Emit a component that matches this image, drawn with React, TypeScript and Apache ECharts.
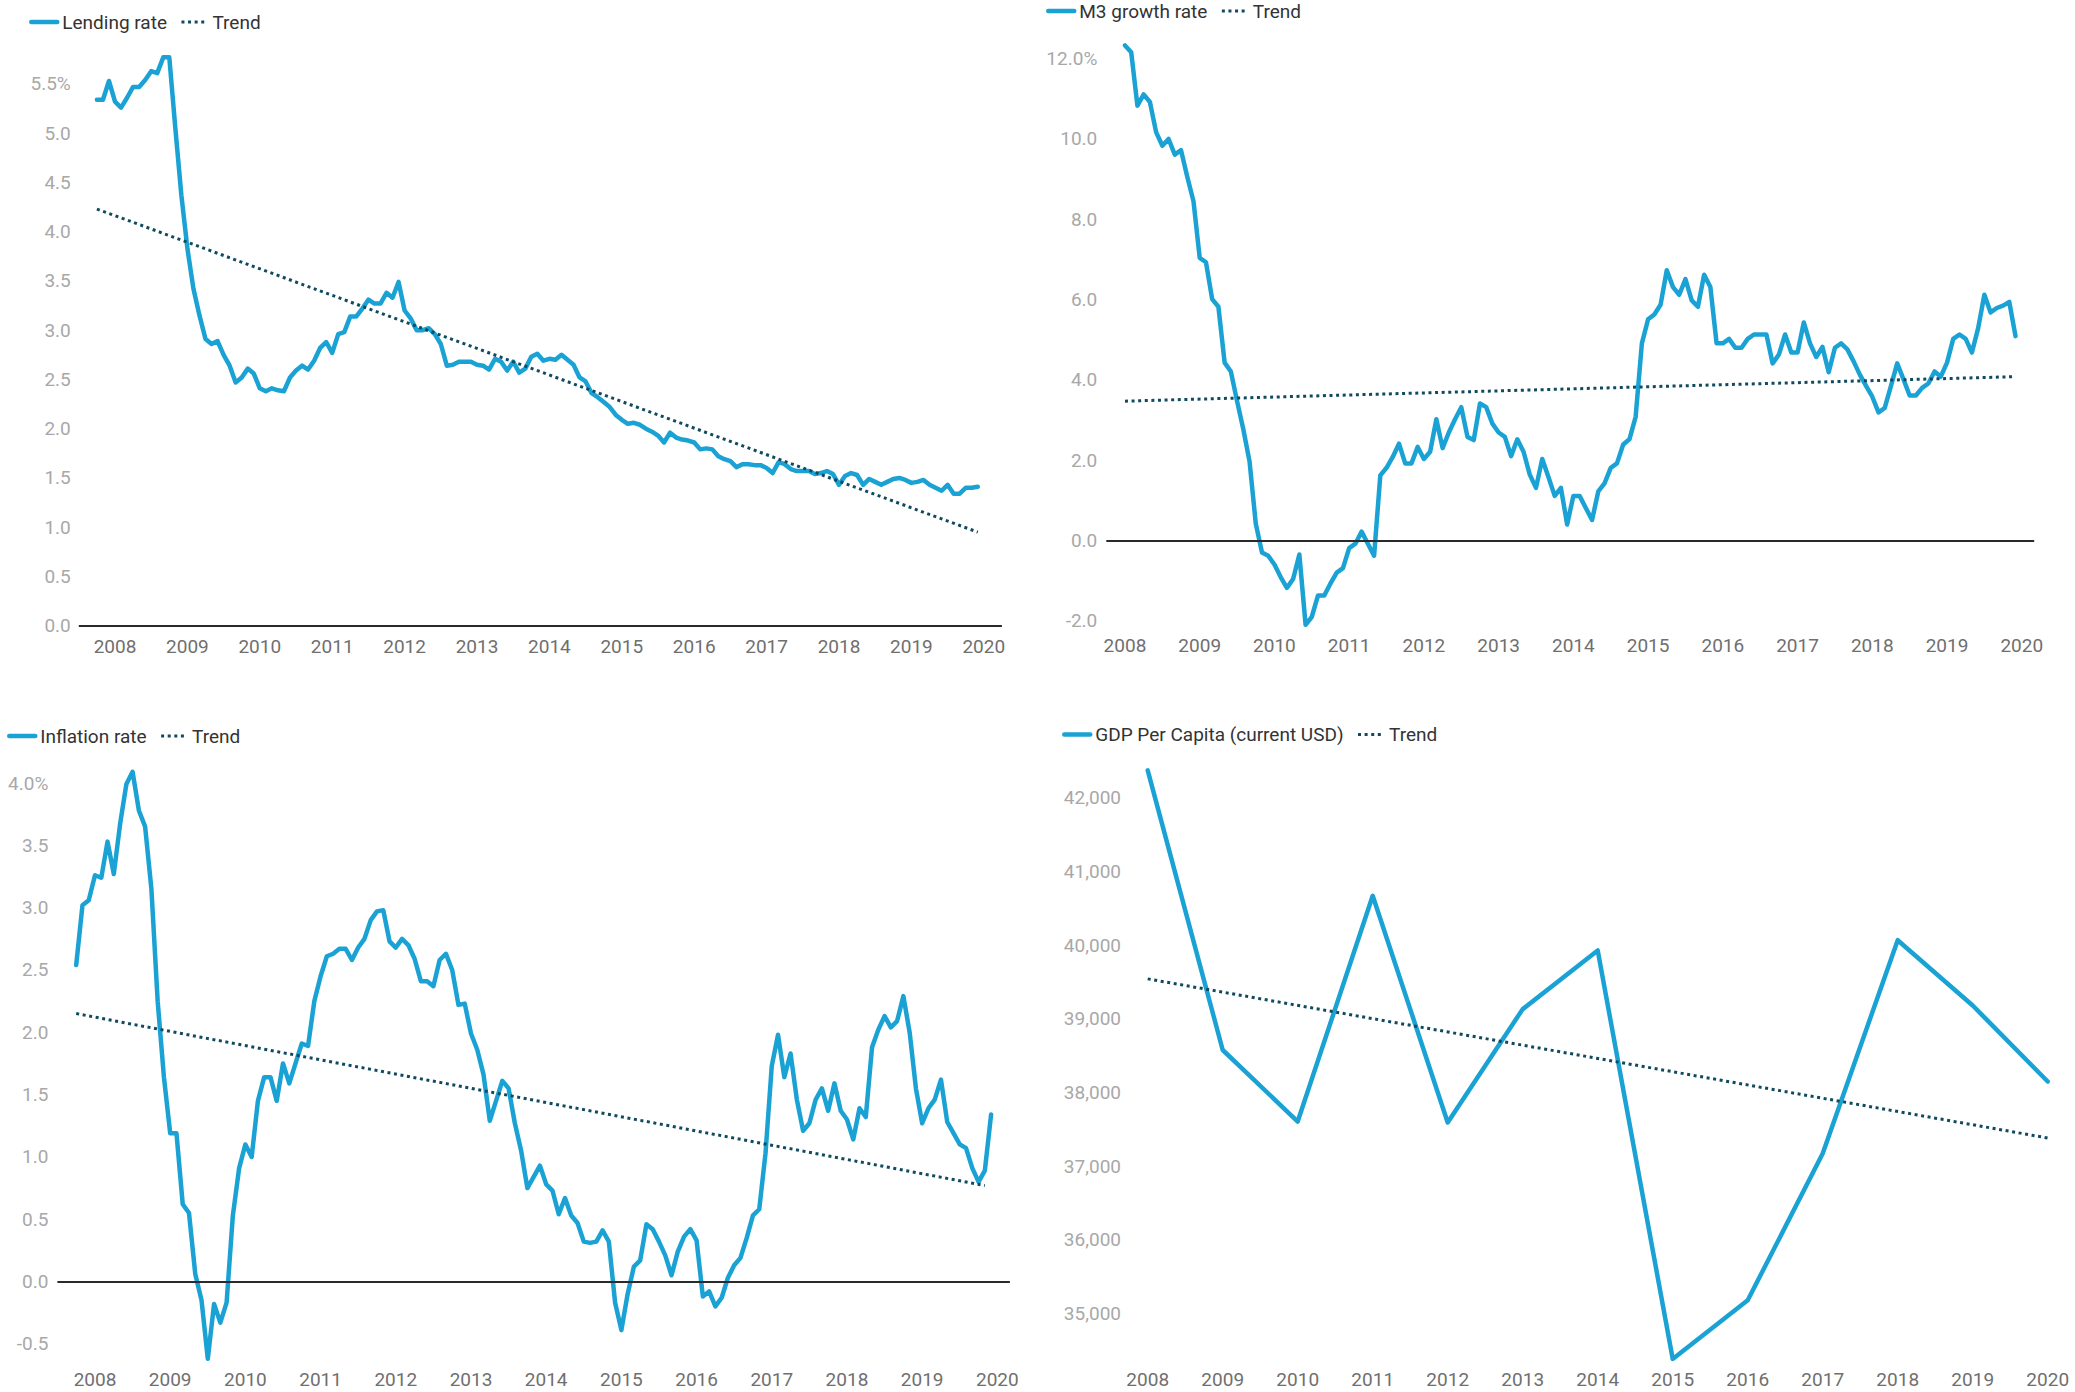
import { useEffect, useRef } from 'react'
import * as echarts from 'echarts'

const FONT = 'Roboto, "Noto Sans", sans-serif'
const LINE_COLOR = '#1ba2d4'
const TREND_COLOR = '#0f4a5f'

// Lending rate, monthly from 2007-10 to 2019-12 (%)
const lendingStart = '2007-10'
const lendingRate = [
  5.34, 5.34, 5.53, 5.32, 5.26, 5.36, 5.47, 5.47, 5.54, 5.63,
  5.61, 5.77, 5.77, 5.05, 4.37, 3.83, 3.42, 3.15, 2.91, 2.86,
  2.89, 2.75, 2.64, 2.47, 2.52, 2.61, 2.56, 2.41, 2.38, 2.41,
  2.39, 2.38, 2.52, 2.59, 2.64, 2.6, 2.69, 2.82, 2.88, 2.77,
  2.96, 2.98, 3.14, 3.14, 3.22, 3.31, 3.27, 3.27, 3.38, 3.33,
  3.49, 3.2, 3.12, 3.0, 3.0, 3.02, 2.96, 2.86, 2.64, 2.65,
  2.68, 2.68, 2.68, 2.65, 2.64, 2.6, 2.71, 2.68, 2.59, 2.68,
  2.57, 2.61, 2.73, 2.76, 2.69, 2.71, 2.7, 2.75, 2.7, 2.65,
  2.52, 2.48, 2.36, 2.32, 2.27, 2.22, 2.14, 2.09, 2.05, 2.06,
  2.04, 2.0, 1.97, 1.93, 1.86, 1.96, 1.91, 1.89, 1.88, 1.86,
  1.79, 1.8, 1.79, 1.72, 1.69, 1.67, 1.61, 1.64, 1.64, 1.63,
  1.63, 1.6, 1.55, 1.66, 1.64, 1.59, 1.57, 1.57, 1.57, 1.54,
  1.55, 1.57, 1.54, 1.43, 1.52, 1.55, 1.53, 1.43, 1.49, 1.46,
  1.43, 1.46, 1.49, 1.5, 1.48, 1.45, 1.46, 1.48, 1.43, 1.4,
  1.37, 1.43, 1.34, 1.34, 1.4, 1.4, 1.41,
]
const lendingTrend = [4.23, 0.95]

// M3 growth rate, monthly from 2008-01 to 2019-12 (%)
const m3Start = '2008-01'
const m3Growth = [
  12.33, 12.16, 10.83, 11.11, 10.92, 10.17, 9.83, 10.0, 9.61, 9.72,
  9.06, 8.45, 7.04, 6.93, 6.01, 5.82, 4.43, 4.21, 3.47, 2.77,
  1.97, 0.42, -0.3, -0.38, -0.6, -0.91, -1.18, -0.96, -0.35,
  -2.1, -1.9, -1.37, -1.37, -1.07, -0.8, -0.69, -0.19, -0.08, 0.22,
  -0.08, -0.38, 1.62, 1.81, 2.08, 2.41, 1.92, 1.92, 2.33, 2.03,
  2.21, 3.02, 2.3, 2.69, 3.02, 3.32, 2.58, 2.5, 3.41, 3.32,
  2.91, 2.69, 2.58, 2.1, 2.52, 2.21, 1.64, 1.31, 2.03, 1.58,
  1.11, 1.31, 0.4, 1.11, 1.11, 0.81, 0.51, 1.22, 1.42, 1.81,
  1.92, 2.39, 2.52, 3.08, 4.91, 5.51, 5.63, 5.87, 6.73, 6.31,
  6.12, 6.51, 5.98, 5.82, 6.62, 6.31, 4.91, 4.91, 5.02, 4.8,
  4.8, 5.02, 5.13, 5.13, 5.13, 4.41, 4.63, 5.13, 4.68,
  4.68, 5.43, 4.91, 4.57, 4.82, 4.19, 4.8, 4.91, 4.76, 4.46,
  4.13, 3.85, 3.58, 3.19, 3.3, 3.85, 4.41, 4.02, 3.61, 3.61,
  3.8, 3.91, 4.21, 4.08, 4.43, 5.02, 5.13, 5.02, 4.68, 5.29,
  6.12, 5.68, 5.79, 5.85, 5.94, 5.09,
]
const m3Trend = [3.47, 4.08]

// Inflation rate, monthly from 2007-10 to 2019-12 (%)
const inflationStart = '2007-10'
const inflationRate = [
  2.54, 3.02, 3.06, 3.26, 3.24, 3.53, 3.27, 3.67, 3.99, 4.09,
  3.78, 3.65, 3.15, 2.25, 1.64, 1.19, 1.19, 0.62, 0.55, 0.06,
  -0.15, -0.62, -0.18, -0.33, -0.17, 0.53, 0.91, 1.1, 1.0, 1.45,
  1.64, 1.64, 1.45, 1.75, 1.59, 1.75, 1.91, 1.89, 2.25, 2.45,
  2.61, 2.63, 2.67, 2.67, 2.58, 2.68, 2.75, 2.9, 2.97, 2.98,
  2.73, 2.68, 2.75, 2.7, 2.59, 2.41, 2.41, 2.37, 2.58, 2.63,
  2.5, 2.22, 2.23, 1.99, 1.86, 1.66, 1.29, 1.45, 1.61, 1.55,
  1.27, 1.05, 0.75, 0.84, 0.93, 0.78, 0.73, 0.54, 0.67, 0.53,
  0.47, 0.32, 0.31, 0.32, 0.41, 0.32, -0.17, -0.39, -0.1, 0.12,
  0.17, 0.46, 0.42, 0.32, 0.21, 0.05, 0.24, 0.36, 0.42, 0.33,
  -0.12, -0.08, -0.2, -0.13, 0.03, 0.13, 0.19, 0.35, 0.53, 0.58,
  1.03, 1.73, 1.98, 1.64, 1.83, 1.46, 1.21, 1.27, 1.46, 1.55,
  1.37, 1.59, 1.37, 1.3, 1.14, 1.39, 1.32, 1.88, 2.02, 2.13,
  2.04, 2.09, 2.29, 2.0, 1.55, 1.27, 1.39, 1.46, 1.62, 1.28,
  1.19, 1.1, 1.07, 0.91, 0.8, 0.89, 1.34,
]
const inflationTrend = [2.15, 0.77]

// GDP per capita, yearly (current USD)
const gdpYears = ['2008', '2009', '2010', '2011', '2012', '2013', '2014', '2015', '2016', '2017', '2018', '2019', '2020']
const gdpPerCapita = [42374, 38578, 37607, 40672, 37594, 39133, 39930, 34384, 35180, 37172, 40069, 39182, 38150]
const gdpTrend = [39544, 37383]

function monthRange(from: string, to: string) {
  const out: string[] = []
  let [y, m] = from.split('-').map(Number)
  const [y1, m1] = to.split('-').map(Number)
  while (y < y1 || (y === y1 && m <= m1)) {
    out.push(`${y}-${String(m).padStart(2, '0')}`)
    m++
    if (m > 12) { m = 1; y++ }
  }
  return out
}

function place(cats: string[], start: string, values: number[]) {
  const i0 = cats.indexOf(start)
  return cats.map((_, i) => (i >= i0 && i < i0 + values.length ? values[i - i0] : null))
}

function trendData(cats: string[], from: string, to: string, ends: number[]) {
  return cats.map(c => (c === from ? ends[0] : c === to ? ends[1] : null))
}

const withCommas = (v: number) => String(v).replace(/\B(?=(\d{3})+(?!\d))/g, ',')

interface PanelSpec {
  name: string
  cats: string[]
  monthly: boolean
  values: (number | null)[]
  trend: (number | null)[]
  legendLeft: number
  legendTop: number
  grid: { left: number; right: number; top: number; bottom: number }
  yMin: number
  yMax: number
  splitNumber: number
  step: number
  topLabel: number | null
  gdp?: boolean
  zeroLine: boolean
  yMargin: number
  xMargin: number
}

function buildOption(p: PanelSpec): echarts.EChartsOption {
  const yFormatter = (v: number) => {
    const k = Math.round(v / p.step)
    if (Math.abs(v - k * p.step) > p.step * 1e-6) return ''
    const val = k * p.step
    if (p.gdp) return withCommas(Math.round(val))
    let s = val.toFixed(1)
    if (p.topLabel !== null && Math.abs(val - p.topLabel) < 1e-6) s += '%'
    return s
  }

  return {
    animation: false,
    backgroundColor: '#ffffff',
    legend: {
      left: p.legendLeft,
      top: p.legendTop,
      padding: 0,
      itemWidth: 26,
      itemHeight: 14,
      itemGap: 13,
      selectedMode: false,
      // hide the marker circle that line series put in their legend icon
      itemStyle: { opacity: 0 },
      lineStyle: { width: 'inherit' },
      textStyle: { fontFamily: FONT, fontSize: 19, color: '#333333', lineHeight: 20 },
      data: [p.name, 'Trend'],
    },
    grid: { ...p.grid, containLabel: false },
    xAxis: {
      type: 'category',
      data: p.cats,
      boundaryGap: false,
      axisLine: { show: false },
      axisTick: { show: false },
      splitLine: { show: false },
      axisLabel: {
        interval: p.monthly ? (_i: number, v: string) => v.endsWith('-01') : 0,
        formatter: (v: string) => v.slice(0, 4),
        color: '#6f6f6f',
        fontSize: 19,
        fontFamily: FONT,
        margin: p.xMargin,
      },
    },
    yAxis: {
      type: 'value',
      min: p.yMin,
      max: p.yMax,
      splitNumber: p.splitNumber,
      axisLine: { show: false },
      axisTick: { show: false },
      splitLine: { show: false },
      axisLabel: {
        formatter: yFormatter,
        color: '#a8a8a8',
        fontSize: 19,
        fontFamily: FONT,
        margin: p.yMargin,
        showMinLabel: true,
        showMaxLabel: true,
      },
    },
    series: [
      {
        name: p.name,
        type: 'line',
        data: p.values,
        symbol: 'none',
        clip: false,
        lineStyle: { color: LINE_COLOR, width: 4.5, cap: 'round', join: 'round' },
        itemStyle: { color: LINE_COLOR },
        emphasis: { disabled: true },
        markLine: p.zeroLine
          ? {
              silent: true,
              symbol: 'none',
              label: { show: false },
              lineStyle: { color: '#2a2a2a', width: 2, type: 'solid' },
              data: [{ yAxis: 0 }],
            }
          : undefined,
        z: 3,
      },
      {
        name: 'Trend',
        type: 'line',
        data: p.trend,
        connectNulls: true,
        symbol: 'none',
        clip: false,
        lineStyle: { color: TREND_COLOR, width: 3, type: [3, 3.6] },
        itemStyle: { color: TREND_COLOR },
        emphasis: { disabled: true },
        z: 4,
      },
    ],
  }
}

const lendingCats = monthRange('2007-07', '2020-04')
const m3Cats = monthRange('2007-10', '2020-03')
const inflationCats = monthRange('2007-07', '2020-03')

const lendingOption = buildOption({
  name: 'Lending rate',
  cats: lendingCats,
  monthly: true,
  values: place(lendingCats, lendingStart, lendingRate),
  trend: trendData(lendingCats, '2007-10', '2019-12', lendingTrend),
  legendLeft: 29,
  legendTop: 12,
  grid: { left: 78.8, right: 35.1, top: 54.4, bottom: 70.3 },
  yMin: 0,
  yMax: 5.8,
  splitNumber: 12,
  step: 0.5,
  topLabel: 5.5,
  zeroLine: true,
  yMargin: 8,
  xMargin: 11,
})

const m3Option = buildOption({
  name: 'M3 growth rate',
  cats: m3Cats,
  monthly: true,
  values: place(m3Cats, m3Start, m3Growth),
  trend: trendData(m3Cats, '2008-01', '2019-12', m3Trend),
  legendLeft: 9,
  legendTop: 1,
  grid: { left: 69.3, right: 40.8, top: 42.6, bottom: 67.2 },
  yMin: -2.2,
  yMax: 12.4,
  splitNumber: 7,
  step: 2,
  topLabel: 12,
  zeroLine: true,
  yMargin: 9,
  xMargin: 7,
})

const inflationOption = buildOption({
  name: 'Inflation rate',
  cats: inflationCats,
  monthly: true,
  values: place(inflationCats, inflationStart, inflationRate),
  trend: trendData(inflationCats, '2007-10', '2019-11', inflationTrend),
  legendLeft: 7,
  legendTop: 30,
  grid: { left: 57.4, right: 27.1, top: 74.6, bottom: 29.5 },
  yMin: -0.65,
  yMax: 4.1,
  splitNumber: 10,
  step: 0.5,
  topLabel: 4,
  zeroLine: true,
  yMargin: 9,
  xMargin: 7.5,
})

const gdpOption = buildOption({
  name: 'GDP Per Capita (current USD)',
  cats: gdpYears,
  monthly: false,
  values: gdpPerCapita,
  trend: trendData(gdpYears, '2008', '2020', gdpTrend),
  legendLeft: 25,
  legendTop: 28.5,
  grid: { left: 110.7, right: 27.3, top: 72.5, bottom: 32.8 },
  yMin: 34380,
  yMax: 42400,
  splitNumber: 8,
  step: 1000,
  topLabel: null,
  gdp: true,
  zeroLine: false,
  yMargin: 26.7,
  xMargin: 10.3,
})

function Panel({ option, left, top, width, height }: {
  option: echarts.EChartsOption
  left: number
  top: number
  width: number
  height: number
}) {
  const ref = useRef<HTMLDivElement>(null)

  useEffect(() => {
    if (!ref.current) return
    const chart = echarts.init(ref.current, undefined, { renderer: 'svg' })
    chart.setOption(option)
    return () => {
      chart.dispose()
    }
  }, [option])

  return <div ref={ref} style={{ position: 'absolute', left, top, width, height }} />
}

export default function App() {
  return (
    <div style={{ position: 'absolute', left: 0, top: 0, width: 2075, height: 1392, background: '#ffffff' }}>
      <Panel option={lendingOption} left={0} top={0} width={1037} height={696} />
      <Panel option={m3Option} left={1037} top={0} width={1038} height={696} />
      <Panel option={inflationOption} left={0} top={696} width={1037} height={696} />
      <Panel option={gdpOption} left={1037} top={696} width={1038} height={696} />
    </div>
  )
}
